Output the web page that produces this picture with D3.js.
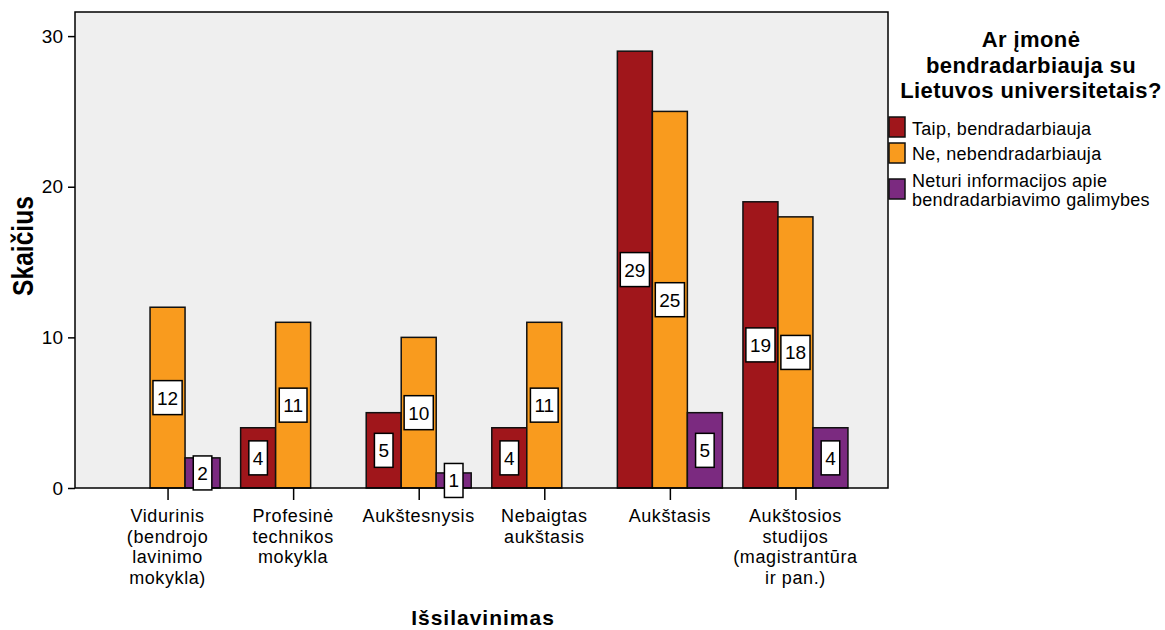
<!DOCTYPE html>
<html>
<head>
<meta charset="utf-8">
<script src="https://cdn.jsdelivr.net/npm/d3@7"></script>
<style>
  html, body { margin: 0; padding: 0; background: #fff; }
  svg text { font-family: Arial, "Liberation Sans", sans-serif; fill: #000; }
</style>
</head>
<body>
<svg id="chart" width="1165" height="630"></svg>
<script>
// Education levels (x categories), multi-line labels
const categories = [
  ["Vidurinis", "(bendrojo", "lavinimo", "mokykla)"],
  ["Profesinė", "technikos", "mokykla"],
  ["Aukštesnysis"],
  ["Nebaigtas", "aukštasis"],
  ["Aukštasis"],
  ["Aukštosios", "studijos", "(magistrantūra", "ir pan.)"]
];
const seriesNames = [
  ["Taip, bendradarbiauja"],
  ["Ne, nebendradarbiauja"],
  ["Neturi informacijos apie", "bendradarbiavimo galimybes"]
];
// Counts per education level; null = no respondents in that group
const taip   = [null, 4, 5, 4, 29, 19];
const ne     = [12, 11, 10, 11, 25, 18];
const neturi = [2, null, 1, null, 5, 4];
const yTicks = [0, 10, 20, 30];
const legendTitle = ["Ar įmonė", "bendradarbiauja su", "Lietuvos universitetais?"];
const colors = ["#A0161B", "#F99B1E", "#7B2A80"];

const svg = d3.select("#chart");
const plot = { left: 75, right: 888, top: 12, bottom: 488 };

const x = d3.scalePoint()
  .domain(d3.range(categories.length))
  .range([plot.left, plot.right])
  .padding(0.737);
const y = d3.scaleLinear().domain([0, 31.6]).range([plot.bottom, plot.top]);
const barW = 35;
const offsets = [-1.5, -0.5, 0.5];

// plot background
svg.append("rect")
  .attr("x", plot.left).attr("y", plot.top)
  .attr("width", plot.right - plot.left).attr("height", plot.bottom - plot.top)
  .attr("fill", "#EFEFEF");

// bars
const series = [taip, ne, neturi];
const bars = [];
series.forEach((vals, si) => {
  vals.forEach((v, ci) => {
    if (v == null) return;
    bars.push({ si, ci, v });
  });
});
svg.append("g").selectAll("rect").data(bars).join("rect")
  .attr("x", d => x(d.ci) + offsets[d.si] * barW)
  .attr("y", d => y(d.v))
  .attr("width", barW)
  .attr("height", d => y(0) - y(d.v))
  .attr("fill", d => colors[d.si])
  .attr("stroke", "#111")
  .attr("stroke-width", 1.5);

// plot frame
svg.append("rect")
  .attr("x", plot.left).attr("y", plot.top)
  .attr("width", plot.right - plot.left).attr("height", plot.bottom - plot.top)
  .attr("fill", "none").attr("stroke", "#000").attr("stroke-width", 1.5);

// value labels in white boxes at mid-height
const lab = svg.append("g");
bars.forEach(d => {
  const cx = x(d.ci) + (offsets[d.si] + 0.5) * barW;
  const cy = y(d.v / 2);
  const g = lab.append("g");
  const t = g.append("text")
    .attr("x", cx).attr("y", cy + 7)
    .attr("text-anchor", "middle")
    .attr("font-size", 19)
    .text(d.v);
  const w = t.node().getComputedTextLength() + 8;
  g.insert("rect", "text")
    .attr("x", cx - w / 2).attr("y", cy - 17)
    .attr("width", w).attr("height", 34)
    .attr("fill", "#fff").attr("stroke", "#000").attr("stroke-width", 1.5);
});

// y axis
const yAxis = d3.axisLeft(y).tickValues(yTicks).tickSize(7).tickPadding(5);
const ya = svg.append("g").attr("transform", `translate(${plot.left},0)`).call(yAxis);
ya.select(".domain").remove();
ya.selectAll("line").attr("stroke", "#000").attr("stroke-width", 1.5);
ya.selectAll("text").attr("font-size", 19).attr("font-family", "Arial, 'Liberation Sans', sans-serif").attr("fill", "#000");

// x axis
const xAxis = d3.axisBottom(x).tickSize(12).tickFormat("");
const xa = svg.append("g").attr("transform", `translate(0,${plot.bottom})`).call(xAxis);
xa.select(".domain").remove();
xa.selectAll("line").attr("stroke", "#000").attr("stroke-width", 1.5);
categories.forEach((lines, ci) => {
  const t = svg.append("text")
    .attr("x", x(ci)).attr("y", 522)
    .attr("text-anchor", "middle")
    .attr("font-size", 18)
    .attr("letter-spacing", 0.6);
  lines.forEach((l, i) => {
    t.append("tspan").attr("x", x(ci)).attr("dy", i === 0 ? 0 : 20.5).text(l);
  });
});

// axis titles
svg.append("text")
  .attr("transform", "translate(33,246) rotate(-90) scale(0.82,1)")
  .attr("text-anchor", "middle")
  .attr("font-size", 30).attr("font-weight", "bold")
  .text("Skaičius");
svg.append("text")
  .attr("x", 483).attr("y", 625)
  .attr("text-anchor", "middle")
  .attr("font-size", 21).attr("font-weight", "bold")
  .attr("letter-spacing", 1.0)
  .text("Išsilavinimas");

// legend
const lt = svg.append("text")
  .attr("text-anchor", "middle")
  .attr("font-size", 22).attr("font-weight", "bold")
  .attr("letter-spacing", 0.4);
legendTitle.forEach((l, i) => {
  lt.append("tspan").attr("x", 1031).attr("y", 47 + i * 25.5).text(l);
});
const swatchY = [117, 143, 179];
const textY = [[135], [160], [187, 206]];
seriesNames.forEach((lines, si) => {
  svg.append("rect")
    .attr("x", 889).attr("y", swatchY[si])
    .attr("width", 16).attr("height", 20)
    .attr("fill", colors[si]).attr("stroke", "#111").attr("stroke-width", 1.5);
  lines.forEach((l, i) => {
    svg.append("text")
      .attr("x", 912).attr("y", textY[si][i])
      .attr("font-size", 18)
      .attr("letter-spacing", 0.3)
      .text(l);
  });
});
</script>
</body>
</html>
